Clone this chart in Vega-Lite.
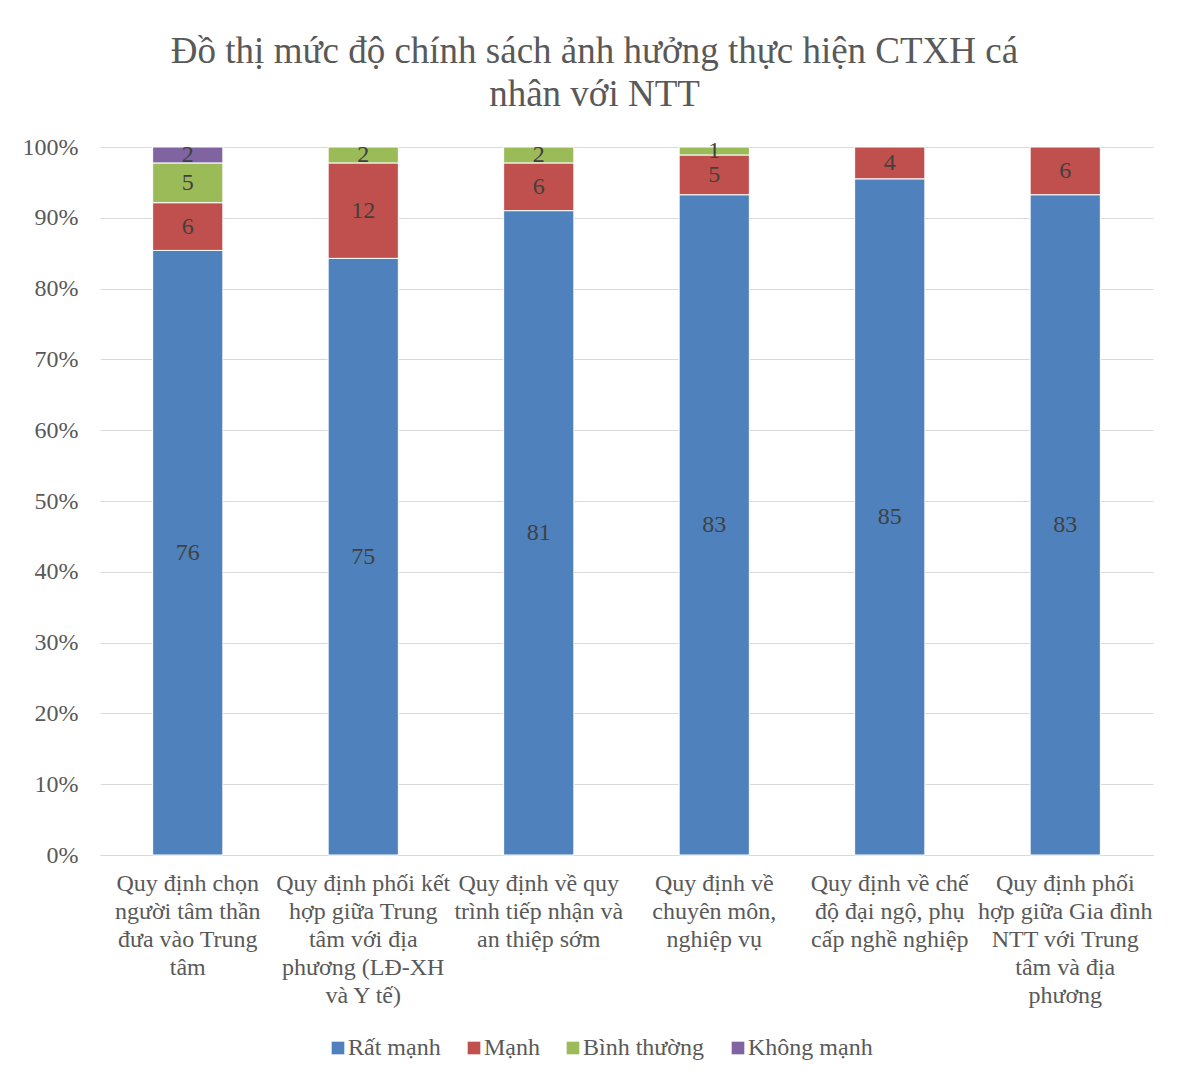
{
  "$schema": "https://vega.github.io/schema/vega-lite/v6.json",
  "autosize": {"type": "none"},
  "width": 1053,
  "height": 708,
  "padding": {"left": 100, "top": 147, "right": 31, "bottom": 224},
  "background": "white",
  "config": {"view": {"stroke": null}},
  "title": {
    "text": ["Đồ thị mức độ chính sách ảnh hưởng thực hiện CTXH cá", "nhân với NTT"],
    "font": "Liberation Serif",
    "fontSize": 37,
    "fontWeight": "normal",
    "color": "#595959",
    "anchor": "middle",
    "dx": -32,
    "offset": 21,
    "lineHeight": 43
  },
  "data": {
    "values": [
      {"cat": "Quy định chọn|người tâm thần|đưa vào Trung|tâm", "series": "Rất mạnh", "value": 76},
      {"cat": "Quy định chọn|người tâm thần|đưa vào Trung|tâm", "series": "Mạnh", "value": 6},
      {"cat": "Quy định chọn|người tâm thần|đưa vào Trung|tâm", "series": "Bình thường", "value": 5},
      {"cat": "Quy định chọn|người tâm thần|đưa vào Trung|tâm", "series": "Không mạnh", "value": 2},
      {"cat": "Quy định phối kết|hợp giữa Trung|tâm với địa|phương (LĐ-XH|và Y tế)", "series": "Rất mạnh", "value": 75},
      {"cat": "Quy định phối kết|hợp giữa Trung|tâm với địa|phương (LĐ-XH|và Y tế)", "series": "Mạnh", "value": 12},
      {"cat": "Quy định phối kết|hợp giữa Trung|tâm với địa|phương (LĐ-XH|và Y tế)", "series": "Bình thường", "value": 2},
      {"cat": "Quy định về quy|trình tiếp nhận và|an thiệp sớm", "series": "Rất mạnh", "value": 81},
      {"cat": "Quy định về quy|trình tiếp nhận và|an thiệp sớm", "series": "Mạnh", "value": 6},
      {"cat": "Quy định về quy|trình tiếp nhận và|an thiệp sớm", "series": "Bình thường", "value": 2},
      {"cat": "Quy định về|chuyên môn,|nghiệp vụ", "series": "Rất mạnh", "value": 83},
      {"cat": "Quy định về|chuyên môn,|nghiệp vụ", "series": "Mạnh", "value": 5},
      {"cat": "Quy định về|chuyên môn,|nghiệp vụ", "series": "Bình thường", "value": 1},
      {"cat": "Quy định về chế|độ đại ngộ, phụ|cấp nghề nghiệp", "series": "Rất mạnh", "value": 85},
      {"cat": "Quy định về chế|độ đại ngộ, phụ|cấp nghề nghiệp", "series": "Mạnh", "value": 4},
      {"cat": "Quy định phối|hợp giữa Gia đình|NTT với Trung|tâm và địa|phương", "series": "Rất mạnh", "value": 83},
      {"cat": "Quy định phối|hợp giữa Gia đình|NTT với Trung|tâm và địa|phương", "series": "Mạnh", "value": 6}
    ]
  },
  "transform": [
    {"calculate": "indexof(['Rất mạnh','Mạnh','Bình thường','Không mạnh'], datum.series)", "as": "k"},
    {"stack": "value", "groupby": ["cat"], "sort": [{"field": "k", "order": "ascending"}], "offset": "normalize", "as": ["y0", "y1"]},
    {"calculate": "(datum.y0 + datum.y1) / 2", "as": "ymid"}
  ],
  "encoding": {
    "x": {
      "field": "cat",
      "type": "nominal",
      "sort": null,
      "title": null,
      "scale": {"paddingInner": 0.6, "paddingOuter": 0.3},
      "axis": {
        "labelAngle": 0,
        "labelExpr": "split(datum.label, '|')",
        "labelFont": "Liberation Serif",
        "labelFontSize": 24,
        "labelColor": "#595959",
        "labelLineHeight": 28,
        "labelPadding": 16,
        "labelLimit": 0,
        "labelBaseline": "top",
        "ticks": false,
        "domainColor": "#d9d9d9",
        "domainWidth": 1,
        "grid": false
      }
    }
  },
  "layer": [
    {
      "mark": {"type": "bar", "stroke": "white", "strokeWidth": 1},
      "encoding": {
        "y": {
          "field": "y0",
          "type": "quantitative",
          "scale": {"domain": [0, 1], "nice": false},
          "title": null,
          "axis": {
            "format": ".0%",
            "values": [0, 0.1, 0.2, 0.3, 0.4, 0.5, 0.6, 0.7, 0.8, 0.9, 1],
            "labelFont": "Liberation Serif",
            "labelFontSize": 24,
            "labelColor": "#595959",
            "labelPadding": 22,
            "ticks": false,
            "domain": false,
            "gridColor": "#d9d9d9",
            "gridWidth": 1
          }
        },
        "y2": {"field": "y1"},
        "color": {
          "field": "series",
          "type": "nominal",
          "scale": {
            "domain": ["Rất mạnh", "Mạnh", "Bình thường", "Không mạnh"],
            "range": ["#4F81BD", "#C0504D", "#9BBB59", "#8064A2"]
          },
          "legend": {
            "title": null,
            "orient": "none",
            "direction": "horizontal",
            "legendX": 226,
            "legendY": 889,
            "symbolType": "square",
            "symbolSize": 160,
            "symbolStrokeWidth": 0,
            "labelFont": "Liberation Serif",
            "labelFontSize": 24,
            "labelColor": "#595959",
            "labelOffset": -2,
            "columnPadding": 21
          }
        }
      }
    },
    {
      "mark": {"type": "text", "font": "Liberation Serif", "fontSize": 24, "color": "#404040", "baseline": "middle"},
      "encoding": {
        "y": {"field": "ymid", "type": "quantitative"},
        "text": {"field": "value", "type": "quantitative"}
      }
    }
  ]
}
